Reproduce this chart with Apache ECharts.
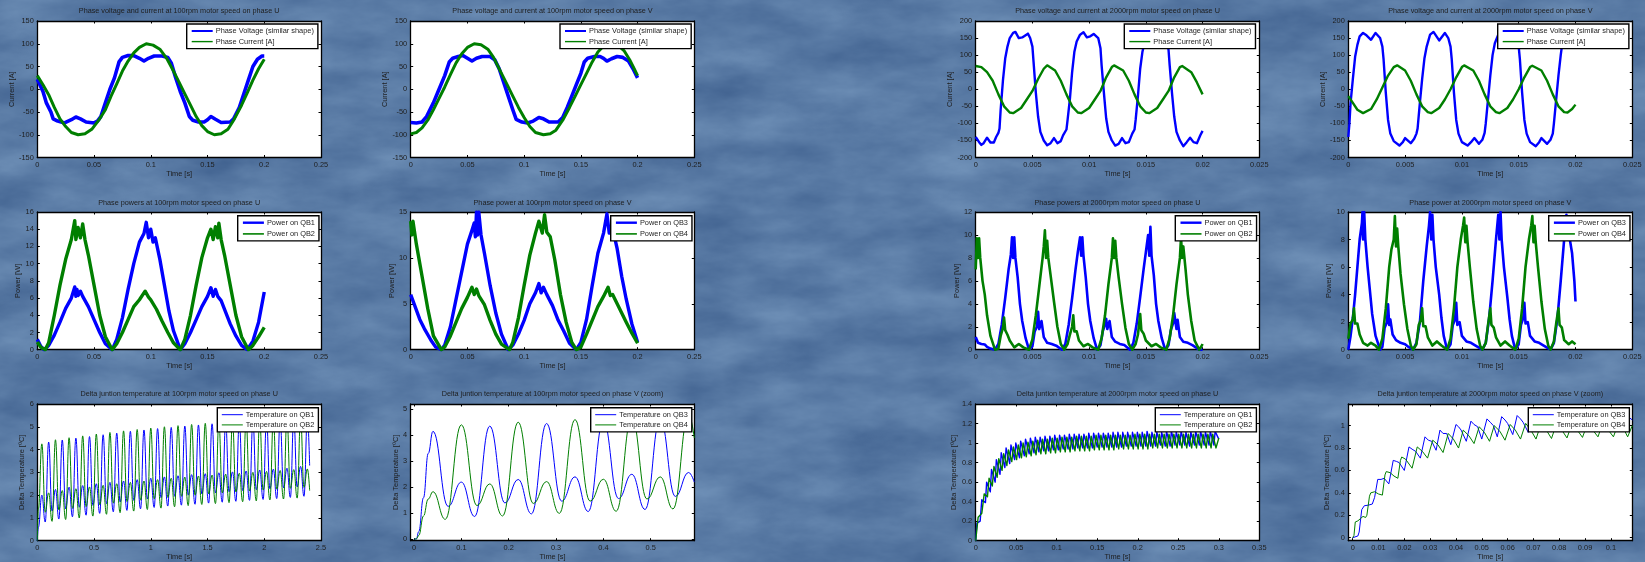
<!DOCTYPE html>
<html><head><meta charset="utf-8">
<style>
html,body{margin:0;padding:0;width:1645px;height:562px;overflow:hidden;background:#5a80a8}
#bg{position:absolute;left:0;top:0}
#c{position:absolute;left:0;top:0;width:1645px;height:562px;filter:blur(0.5px)}
</style>
<script src="https://cdn.jsdelivr.net/npm/echarts@6/dist/echarts.min.js"></script>
</head><body>
<svg id="bg" width="1645" height="562" xmlns="http://www.w3.org/2000/svg">
<filter id="w" x="0" y="0" width="100%" height="100%" color-interpolation-filters="sRGB">
<feTurbulence type="fractalNoise" baseFrequency="0.012 0.028" numOctaves="5" seed="11"/>
<feColorMatrix type="matrix" values=".2 0 0 0 .25  .2 0 0 0 .38  .17 0 0 0 .56  0 0 0 0 1"/>
</filter>
<rect width="1645" height="562" filter="url(#w)"/>
</svg>
<div id="c"></div>
<script>
// ---------- Row 1: phase voltage and current ----------
const voltU100=[[0,22],[.005,-5],[.008,-30],[.012,-50],[.014,-65],[.018,-70],[.024,-74],[.03,-67],[.034,-61],[.038,-65],[.043,-72],[.05,-74],[.053,-70],[.056,-60],[.06,-30],[.064,0],[.068,25],[.072,60],[.075,70],[.08,74],[.085,74],[.09,68],[.094,62],[.098,68],[.103,73],[.11,73],[.115,70],[.118,58],[.122,25],[.126,-5],[.13,-30],[.134,-60],[.137,-68],[.142,-72],[.147,-72],[.15,-67],[.153,-60],[.157,-66],[.162,-73],[.17,-72],[.173,-65],[.178,-40],[.182,-10],[.186,20],[.19,50],[.194,66],[.198,73],[.2,73]];
const currU100=[[0,30],[.005,10],[.01,-12],[.015,-40],[.02,-65],[.025,-82],[.03,-95],[.036,-100],[.042,-98],[.048,-88],[.055,-65],[.06,-45],[.065,-15],[.07,12],[.075,40],[.08,62],[.085,80],[.09,92],[.096,100],[.102,97],[.108,88],[.114,68],[.12,40],[.125,15],[.13,-10],[.135,-35],[.14,-60],[.145,-80],[.15,-93],[.156,-100],[.162,-98],[.168,-88],[.173,-68],[.18,-35],[.185,-8],[.19,20],[.195,45],[.2,66]];
const voltV100=[[0,-73],[.005,-74],[.01,-72],[.014,-60],[.02,-30],[.025,0],[.03,30],[.034,60],[.037,68],[.042,72],[.046,74],[.05,68],[.054,62],[.058,68],[.063,72],[.07,72],[.074,65],[.078,45],[.082,15],[.086,-15],[.09,-45],[.093,-66],[.098,-72],[.103,-74],[.108,-70],[.113,-62],[.117,-65],[.122,-72],[.13,-72],[.134,-62],[.138,-40],[.142,-15],[.146,10],[.15,35],[.153,60],[.156,68],[.162,72],[.167,72],[.17,68],[.173,62],[.177,67],[.182,72],[.187,70],[.192,62],[.196,45],[.2,25]];
const currV100=[[0,-98],[.005,-95],[.01,-85],[.015,-68],[.02,-45],[.025,-20],[.03,5],[.035,32],[.04,58],[.045,78],[.05,92],[.056,100],[.062,98],[.068,88],[.073,70],[.08,35],[.085,10],[.09,-15],[.095,-40],[.1,-62],[.105,-82],[.11,-95],[.117,-100],[.123,-98],[.128,-90],[.134,-68],[.14,-40],[.145,-15],[.15,10],[.155,35],[.16,60],[.165,82],[.17,95],[.176,100],[.182,98],[.188,85],[.193,65],[.197,45],[.2,30]];
const voltU2000=[[0,-140],[.0003,-155],[.0005,-163],[.0007,-158],[.001,-142],[.0013,-156],[.0016,-156],[.0018,-140],[.002,-128],[.0021,-115],[.0022,-60],[.0024,25],[.0026,90],[.0028,125],[.003,150],[.0033,165],[.0035,168],[.0038,150],[.0041,152],[.0046,163],[.0048,150],[.005,125],[.0051,80],[.0053,-10],[.0055,-80],[.0057,-125],[.006,-150],[.0063,-164],[.0066,-158],[.0069,-143],[.0072,-158],[.0075,-152],[.0077,-135],[.008,-118],[.0081,-90],[.0083,-30],[.0085,50],[.0087,110],[.0089,140],[.0092,160],[.0095,167],[.0098,152],[.0101,155],[.0104,162],[.0108,150],[.011,120],[.0111,70],[.0113,-10],[.0115,-85],[.0117,-125],[.012,-150],[.0123,-165],[.0126,-160],[.0129,-143],[.0132,-158],[.0135,-155],[.0138,-130],[.014,-118],[.0141,-90],[.0143,-20],[.0145,60],[.0147,110],[.0149,140],[.0152,160],[.0155,167],[.0158,150],[.0161,155],[.0164,162],[.0168,150],[.017,115],[.0171,70],[.0173,-10],[.0175,-80],[.0177,-125],[.018,-150],[.0183,-167],[.0186,-155],[.0189,-142],[.0192,-155],[.0195,-158],[.0198,-135],[.02,-122]];
const currU2000=[[0,68],[.0005,65],[.001,50],[.0015,25],[.002,-15],[.0025,-50],[.003,-68],[.0033,-70],[.004,-55],[.0045,-30],[.005,-5],[.0055,30],[.006,60],[.0063,70],[.007,55],[.0075,25],[.008,-15],[.0085,-50],[.009,-68],[.0093,-70],[.01,-55],[.0105,-30],[.011,-5],[.0115,35],[.012,65],[.0122,70],[.013,55],[.0135,25],[.014,-15],[.0145,-50],[.015,-68],[.0153,-70],[.016,-55],[.0165,-30],[.017,-5],[.0175,35],[.018,65],[.0182,68],[.019,50],[.0195,20],[.02,-15]];
const voltV2000=[[0,-140],[.0001,-100],[.0002,-40],[.0004,30],[.0006,95],[.0008,130],[.001,155],[.0013,165],[.0016,158],[.002,145],[.0024,165],[.0028,150],[.003,125],[.0031,90],[.0033,-10],[.0035,-90],[.0037,-130],[.004,-152],[.0045,-165],[.0048,-155],[.005,-143],[.0055,-158],[.0058,-145],[.006,-130],[.0061,-115],[.0063,-40],[.0065,30],[.0067,90],[.0069,125],[.0072,160],[.0075,168],[.008,143],[.0085,165],[.0088,150],[.009,125],[.0091,90],[.0093,-10],[.0095,-90],[.0097,-130],[.01,-155],[.0105,-165],[.0108,-155],[.0111,-143],[.0115,-160],[.0118,-148],[.012,-128],[.0121,-100],[.0123,-30],[.0125,40],[.0127,100],[.0129,135],[.0132,160],[.0135,168],[.014,145],[.0145,165],[.0148,150],[.015,125],[.0151,90],[.0153,-10],[.0155,-90],[.0157,-130],[.016,-155],[.0165,-167],[.0168,-155],[.017,-143],[.0175,-160],[.0178,-148],[.018,-130],[.0181,-100],[.0183,-30],[.0185,40],[.0187,100],[.0189,150],[.0192,163],[.0195,168],[.02,150]];
const currV2000=[[0,-20],[.0003,-35],[.0008,-60],[.0013,-70],[.002,-58],[.0025,-30],[.003,5],[.0035,40],[.004,65],[.0043,70],[.005,55],[.0055,25],[.006,-15],[.0065,-50],[.007,-67],[.0073,-70],[.008,-55],[.0085,-30],[.009,0],[.0095,35],[.01,65],[.0102,70],[.011,55],[.0115,25],[.012,-15],[.0125,-50],[.013,-67],[.0133,-70],[.014,-55],[.0145,-30],[.015,0],[.0155,35],[.016,65],[.0162,69],[.017,55],[.0175,25],[.018,-15],[.0185,-50],[.019,-67],[.0193,-68],[.0197,-58],[.02,-45]];
// ---------- Row 2: phase powers ----------
const powQB1_100=[[0,1.2],[.003,.4],[.006,0],[.01,.5],[.015,1.7],[.02,3.2],[.025,4.8],[.03,6],[.033,7.3],[.034,6.2],[.035,7],[.036,6.3],[.038,6.8],[.04,6.2],[.045,5],[.05,3.5],[.055,2],[.06,.7],[.066,0],[.07,1.2],[.075,3.7],[.08,7],[.085,10],[.09,12.5],[.094,13.5],[.096,14.8],[.098,13],[.1,14],[.102,12.5],[.104,13],[.108,10.5],[.112,7.5],[.116,4.5],[.12,2.2],[.126,0],[.13,.7],[.135,2],[.14,3.5],[.145,5],[.15,6.2],[.153,7.2],[.155,6.2],[.157,7],[.159,6.2],[.162,5.7],[.165,4.7],[.17,3],[.175,1.6],[.18,.5],[.185,0],[.19,1],[.195,3.2],[.2,6.7]];
const powQB2_100=[[0,.9],[.003,.3],[.007,0],[.01,.8],[.015,4],[.02,7.5],[.025,10.5],[.03,12.8],[.033,15],[.034,12.8],[.036,14.2],[.038,13],[.04,14.6],[.042,12.8],[.045,11],[.05,7.5],[.055,4],[.06,1.5],[.066,0],[.07,.7],[.075,2],[.08,3.5],[.085,5],[.09,5.8],[.095,6.8],[.098,6.1],[.1,5.8],[.105,4.7],[.11,3.3],[.115,2],[.12,.8],[.126,0],[.13,1.2],[.135,4],[.14,7.5],[.145,10.7],[.15,13],[.153,14],[.155,12.8],[.157,14.3],[.159,13],[.16,14.7],[.162,12.8],[.165,11],[.17,7.5],[.175,4],[.18,1.5],[.186,0],[.19,.5],[.195,1.5],[.2,2.6]];
const powQB3_100=[[0,6],[.003,5],[.008,3.3],[.012,2.3],[.018,1],[.022,.3],[.027,0],[.03,.5],[.035,2.5],[.04,5.5],[.045,8.5],[.05,11.5],[.054,13],[.056,13.8],[.057,12.3],[.058,15],[.059,12.5],[.06,15],[.062,12.5],[.065,10.5],[.07,7],[.075,4],[.08,1.7],[.086,0],[.09,.5],[.095,1.7],[.1,3.2],[.105,5],[.11,6.2],[.113,7.2],[.115,6.2],[.117,6.8],[.12,6],[.125,4.8],[.13,3.2],[.135,2],[.14,.7],[.146,0],[.15,.8],[.155,3.3],[.16,7],[.165,10.5],[.17,12.7],[.173,14.8],[.175,12.7],[.178,13.2],[.182,11],[.186,8],[.19,5.5],[.195,2.8],[.2,.8]];
const powQB4_100=[[0,14],[.001,12.5],[.002,14],[.005,11.5],[.01,8],[.015,4.5],[.02,1.5],[.027,0],[.03,.3],[.035,1.5],[.04,3],[.045,4.5],[.05,5.7],[.054,6.8],[.056,6],[.058,6.6],[.06,5.9],[.065,4.9],[.07,3.2],[.075,1.7],[.08,.6],[.087,0],[.09,.8],[.095,3.5],[.1,7],[.105,10.3],[.11,12.7],[.113,14],[.116,12.7],[.118,14.7],[.12,12.8],[.123,12.3],[.127,9.8],[.132,6],[.137,3],[.142,.8],[.146,0],[.15,.3],[.155,1.7],[.16,3.2],[.165,4.7],[.17,5.8],[.174,6.8],[.176,5.9],[.178,6],[.182,5],[.186,4],[.19,3],[.195,1.8],[.2,.7]];
const powQB1_2000=[[0,1.1],[.0002,.6],[.0005,.5],[.0008,.45],[.001,.25],[.0013,.1],[.0017,0],[.002,.5],[.0023,2.2],[.0026,4.5],[.0029,7],[.0031,8.3],[.0032,9.8],[.0033,8],[.0034,9.8],[.0035,8],[.0037,6.3],[.0039,4],[.0041,2.5],[.0044,1],[.0047,0],[.005,.3],[.0052,1.6],[.0054,2],[.0055,3.3],[.0056,1.8],[.0058,2.5],[.006,1.1],[.0063,.6],[.0067,.5],[.0071,.35],[.0076,0],[.0079,.5],[.0082,2.2],[.0085,4.5],[.0088,7],[.009,8.5],[.0092,9.8],[.0093,8.2],[.0094,9.8],[.0095,8.2],[.0097,6.3],[.0099,4],[.0101,2.5],[.0104,1],[.0107,0],[.011,.4],[.0112,1.6],[.0114,2.2],[.0115,2.7],[.0116,1.8],[.0118,2.5],[.012,1.1],[.0123,.7],[.0127,.5],[.0131,.4],[.0136,0],[.0139,.6],[.0142,2.3],[.0145,4.6],[.0148,7],[.015,8.5],[.0152,10],[.0153,8.2],[.0154,10.7],[.0155,8.2],[.0157,6.5],[.0159,4],[.0161,2.5],[.0164,1],[.0167,0],[.017,.4],[.0172,1.7],[.0174,2.3],[.0175,3.2],[.0177,1.8],[.0178,2.6],[.018,1.1],[.0183,.7],[.0187,.6],[.0191,.4],[.0197,0],[.02,0]];
const powQB2_2000=[[0,7],[.0001,9.7],[.0002,8],[.0003,9.7],[.0004,8],[.0006,6],[.0008,4.8],[.001,3],[.0013,1.2],[.0017,0],[.002,.1],[.0022,1.2],[.0024,1.9],[.0025,2.8],[.0026,1.7],[.0028,1.3],[.003,.8],[.0034,.2],[.0038,.5],[.0042,.2],[.0047,0],[.005,.9],[.0053,3],[.0056,5.5],[.0059,8],[.006,9],[.0061,10.4],[.0062,8],[.0063,9.5],[.0064,8],[.0066,6.5],[.0069,4.2],[.0072,2],[.0075,.5],[.0078,0],[.0081,.5],[.0083,1.3],[.0085,2],[.0086,3],[.0087,1.6],[.0089,1.6],[.0091,.8],[.0095,.3],[.0099,.5],[.0103,.2],[.0108,0],[.0111,1],[.0114,3],[.0117,5.7],[.012,8],[.0121,9.7],[.0122,8],[.0123,9.5],[.0124,8],[.0126,6.3],[.0129,4],[.0132,1.9],[.0135,.5],[.0138,0],[.0141,.5],[.0143,1.3],[.0145,3.1],[.0146,1.7],[.0148,1.4],[.015,.8],[.0155,.3],[.0159,.5],[.0163,.2],[.0168,0],[.0171,1],[.0174,3],[.0177,5.7],[.018,8],[.0181,9.8],[.0182,8],[.0183,9],[.0185,7],[.0187,4.8],[.019,2.5],[.0193,.8],[.0197,0],[.0199,.3],[.02,.5]];
const powQB3_2000=[[0,0],[.0002,1],[.0004,2.3],[.0006,4],[.0008,6],[.001,8],[.0012,9.2],[.00125,10],[.0013,8],[.0014,10],[.0015,8],[.0017,6],[.0019,4.3],[.0021,2.6],[.0024,1],[.0028,0],[.003,.2],[.0032,1.6],[.0034,2],[.0035,3.3],[.0036,1.8],[.0037,2.2],[.0039,1.1],[.0042,.7],[.0046,.5],[.005,.4],[.0053,.2],[.0057,0],[.006,.5],[.0063,2],[.0066,5],[.0069,7.5],[.0071,9],[.0072,10],[.0073,8],[.0074,9.8],[.0075,8],[.0077,6],[.008,4],[.0082,2.3],[.0084,1],[.0087,0],[.009,.4],[.0092,1.8],[.0094,2.2],[.0095,3.4],[.0096,1.8],[.0098,2],[.01,1],[.0104,.6],[.0108,.5],[.0112,.3],[.0118,0],[.0121,.5],[.0124,2.3],[.0127,5],[.013,8],[.0132,9.8],[.0133,8],[.0134,10],[.0135,8],[.0137,6],[.014,3.8],[.0142,2.2],[.0144,1],[.0147,0],[.015,.4],[.0152,1.8],[.0154,2.3],[.0155,3.4],[.0156,1.9],[.0158,2],[.016,1],[.0164,.6],[.0168,.5],[.0172,.3],[.0178,0],[.0181,.5],[.0184,2.2],[.0187,5],[.019,8],[.0192,9.8],[.0193,8],[.0194,9.5],[.0195,8],[.0197,7],[.0199,5],[.02,3.5]];
const powQB4_2000=[[0,.8],[.0002,1.9],[.0004,2.2],[.0005,3],[.0006,1.9],[.0008,1.9],[.001,1.1],[.0013,.5],[.0017,.3],[.002,.5],[.0024,.3],[.0027,0],[.003,.8],[.0033,3],[.0036,6],[.0038,7.3],[.004,8],[.0041,9.7],[.0042,7.5],[.0043,8.8],[.0044,7.5],[.0046,5.5],[.0049,3.3],[.0052,1.5],[.0055,.3],[.0057,0],[.006,.4],[.0062,1.8],[.0064,2.2],[.0065,3],[.0066,1.7],[.0068,1.7],[.007,.9],[.0074,.3],[.0078,.6],[.0082,.3],[.0087,0],[.009,.8],[.0093,3],[.0096,6],[.0099,8],[.0101,9],[.0102,9.6],[.0103,7.8],[.0104,9],[.0105,7.8],[.0107,6],[.011,3.5],[.0113,1.5],[.0116,.3],[.0118,0],[.0121,.5],[.0123,1.8],[.0125,3],[.0126,1.8],[.0128,1.6],[.013,.9],[.0134,.3],[.0138,.6],[.0142,.3],[.0147,0],[.015,.8],[.0153,3],[.0156,6],[.0159,8],[.0161,9],[.0162,9.7],[.0163,7.8],[.0164,9],[.0165,7.8],[.0167,6],[.017,3.5],[.0173,1.5],[.0176,.3],[.0178,0],[.0181,.6],[.0183,1.9],[.0185,3],[.0186,1.8],[.0188,1.6],[.019,.7],[.0194,.4],[.0197,.6],[.02,.4]];
// ---------- Row 3: delta junction temperature ----------
// panel 9: successive extrema, one every 0.03 s from t=0.04
const tempQB1_U100=[2.0,.82,4.33,1.3, 2.25,.95,4.42,1.4, 2.35,1.05,4.5,1.47, 2.42,1.12,4.57,1.55, 2.5,1.2,4.65,1.63, 2.56,1.27,4.72,1.7, 2.62,1.33,4.8,1.77, 2.68,1.4,4.86,1.83, 2.74,1.46,4.92,1.89, 2.8,1.52,4.97,1.95, 2.85,1.56,5.03,2.0, 2.9,1.6,5.08,2.05, 2.94,1.65,5.13,2.1, 2.98,1.69,5.17,2.15, 3.02,1.73,5.21,2.2, 3.06,1.77,5.25,2.24, 3.1,1.81,5.28,2.28, 3.14,1.85,5.31,2.32, 3.18,1.9,5.34,2.36, 3.26,1.95,5.37];
const tempQB2_U100=[4.25,1.25,2.1,.85, 4.43,1.35,2.2,.93, 4.52,1.42,2.28,1.0, 4.6,1.5,2.36,1.08, 4.68,1.58,2.43,1.16, 4.75,1.65,2.5,1.23, 4.82,1.72,2.56,1.3, 4.88,1.78,2.62,1.37, 4.94,1.84,2.68,1.43, 5.0,1.9,2.74,1.49, 5.05,1.95,2.79,1.54, 5.1,2.0,2.84,1.59, 5.15,2.05,2.88,1.63, 5.19,2.1,2.92,1.67, 5.23,2.14,2.96,1.71, 5.27,2.18,3.0,1.75, 5.3,2.22,3.04,1.79, 5.33,2.26,3.08,1.83, 5.36,2.3,3.12,1.87, 5.38,2.34,3.15];
const tempQB3_V100=[[0,0],[.005,.02],[.01,.3],[.02,1.6],[.03,3.3],[.04,4.15],[.072,1.27],[.1,2.2],[.128,.88],[.16,4.35],[.192,1.4],[.22,2.3],[.248,.98],[.28,4.45],[.312,1.47],[.34,2.4],[.368,1.07],[.4,4.55],[.432,1.57],[.46,2.5],[.488,1.15],[.52,4.65],[.552,1.65],[.58,2.57],[.592,2.2]];
const tempQB4_V100=[[0,0],[.005,.02],[.01,.15],[.02,.9],[.03,1.55],[.04,1.83],[.066,.77],[.1,4.4],[.133,1.3],[.16,2.13],[.187,.9],[.22,4.5],[.252,1.38],[.28,2.22],[.307,1.0],[.34,4.6],[.372,1.47],[.4,2.31],[.427,1.08],[.46,4.7],[.492,1.55],[.52,2.4],[.547,1.17],[.58,4.8],[.592,3.9]];
// panel 11: one peak / one trough per electrical period (0.006 s)
const peaksQB1_U2000=[.42,.6,.73,.83,.9,.95,.98,1.0,1.02,1.04,1.05,1.06,1.06,1.07,1.07,1.08,1.08,1.08,1.09,1.09,1.09,1.09,1.1,1.1,1.1,1.1,1.1,1.11,1.11,1.11,1.11,1.11,1.11,1.11,1.12,1.11,1.11,1.11,1.12,1.12,1.11,1.12,1.11,1.11,1.12,1.12,1.11,1.12,1.12];
const troughsQB1_U2000=[.39,.5,.6,.68,.75,.79,.83,.85,.87,.89,.9,.91,.92,.92,.93,.93,.94,.94,.94,.95,.95,.95,.95,.96,.96,.96,.96,.96,.96,.97,.97,.97,.97,.97,.97,.97,.98,.97,.97,.98,.98,.98,.97,.98,.98,.98,.98,.98,1.04];
const peaksQB2_U2000=[.48,.64,.76,.84,.89,.93,.96,.98,1.0,1.01,1.02,1.03,1.04,1.04,1.05,1.05,1.06,1.06,1.06,1.07,1.07,1.07,1.07,1.08,1.08,1.08,1.08,1.08,1.08,1.08,1.08,1.09,1.09,1.09,1.09,1.09,1.09,1.09,1.09,1.09,1.09,1.09,1.09,1.09,1.09,1.09,1.09,1.09];
const troughsQB2_U2000=[.45,.56,.65,.72,.77,.81,.83,.85,.86,.87,.88,.89,.89,.9,.9,.91,.91,.91,.92,.92,.92,.92,.93,.93,.93,.93,.93,.94,.94,.94,.94,.94,.94,.94,.95,.95,.95,.95,.95,.95,.95,.95,.95,.95,.95,.95,.95,.95];
const tempQB3_V2000=[[0,0],[.002,.015],[.0025,.05],[.0035,.25],[.0045,.285],[.006,.29],[.0076,.3],[.0085,.36],[.0097,.52],[.011,.52],[.0122,.53],[.014,.48],[.0157,.69],[.017,.68],[.018,.67],[.02,.6],[.0218,.81],[.023,.79],[.0244,.77],[.0262,.71],[.028,.9],[.0293,.87],[.0306,.86],[.0323,.78],[.0338,.96],[.035,.93],[.0364,.93],[.038,.83],[.04,1.01],[.041,.99],[.042,.96],[.044,.86],[.0458,1.04],[.047,1.01],[.0484,.99],[.05,.88],[.052,1.06],[.0533,1.03],[.0545,1.0],[.056,.9],[.0577,1.08],[.059,1.05],[.06,1.02],[.062,.92],[.0637,1.09],[.065,1.06],[.066,1.03],[.068,.94],[.0697,1.1],[.072,1.04],[.074,.95],[.0757,1.1],[.078,1.05],[.08,.95],[.0817,1.11],[.084,1.05],[.086,.96],[.0877,1.11],[.09,1.05],[.092,.96],[.0937,1.11],[.096,1.05],[.098,.96],[.0997,1.11],[.102,1.05],[.104,.97],[.1057,1.1],[.1083,1.05]];
const tempQB4_V2000=[[0,0],[.0005,.02],[.001,.14],[.002,.15],[.003,.17],[.004,.19],[.005,.18],[.0055,.2],[.0065,.37],[.007,.4],[.0085,.41],[.01,.39],[.0115,.38],[.0125,.56],[.013,.59],[.0145,.58],[.016,.55],[.0175,.53],[.0185,.69],[.019,.72],[.0205,.7],[.023,.62],[.025,.81],[.027,.77],[.029,.71],[.031,.87],[.033,.83],[.035,.76],[.037,.93],[.039,.88],[.041,.8],[.0428,.96],[.045,.91],[.047,.84],[.049,.99],[.051,.94],[.053,.86],[.0548,1.0],[.057,.95],[.059,.87],[.061,1.01],[.063,.96],[.065,.88],[.067,1.02],[.069,.96],[.071,.88],[.073,1.02],[.075,.96],[.077,.885],[.079,1.02],[.081,.96],[.083,.89],[.085,1.02],[.087,.96],[.089,.895],[.091,1.02],[.093,.96],[.095,.9],[.097,1.03],[.099,.96],[.101,.9],[.103,1.03],[.105,.97],[.1065,.9],[.1083,1.0]];
// ---------- Tick labels ----------
const ticksT100=[0,.05,.1,.15,.2,.25], ticksT2000=[0,.005,.01,.015,.02,.025];
const ticksT24=[0,.5,1,1.5,2,2.5], ticksT06=[0,.1,.2,.3,.4,.5];
const ticksT03=[0,.05,.1,.15,.2,.25,.3,.35], ticksT01=[0,.01,.02,.03,.04,.05,.06,.07,.08,.09,.1];
const ticksI150=[-150,-100,-50,0,50,100,150], ticksI200=[-200,-150,-100,-50,0,50,100,150,200];
const ticksP16=[0,2,4,6,8,10,12,14,16], ticksP15=[0,5,10,15], ticksP12=[0,2,4,6,8,10,12], ticksP10=[0,2,4,6,8,10];
const ticksD6=[0,1,2,3,4,5,6], ticksD5=[0,1,2,3,4,5], ticksD14=[0,.2,.4,.6,.8,1,1.2,1.4], ticksD1=[0,.2,.4,.6,.8,1];

// Helpers that only pair typed values with their time base
const stepped=(vals,t0,dt,head,tail)=>head.concat(vals.map((v,i)=>[t0+dt*i,v]),tail);
function sawtooth(peaks,troughs,tPeak,tTrough,head,tail){
  const out=head.slice();
  peaks.forEach((p,i)=>{out.push([tPeak+.006*i,p]);out.push([tTrough+.006*i,troughs[i]]);});
  return out.concat(tail);
}

const BLUE='#0000ff', GREEN='#007f00', INK='#1e1e1e';
const cols=[{l:37.3,r:321},{l:410.7,r:694.3},{l:975.7,r:1259.3},{l:1348.3,r:1632.3}];
const rows=[{t:21,b:157.5,ty:11,lg:24,gap:3.6},{t:212,b:349.7,ty:203,lg:215.7,gap:4.2},{t:404,b:540.7,ty:394,lg:407.7,gap:3.2}];
const lgLeft=[[186.7,560,1124.3,1497.7],[237.7,610.7,1175.3,1548.7],[217.3,590.7,1155.3,1528.3]];

const VI=['Phase Voltage (similar shape)','Phase Current [A]'];
const DT='Delta Temperature [\u2070C]';
const panels=[
 {r:0,c:0,title:'Phase voltage and current at 100rpm motor speed on phase U',yn:'Current [A]',yg:20,x:ticksT100,y:ticksI150,names:VI,d:[voltU100,currU100],w:[3.6,3],lw:[2,1.4]},
 {r:0,c:1,title:'Phase voltage and current at 100rpm motor speed on phase V',yn:'Current [A]',yg:21,x:ticksT100,y:ticksI150,names:VI,d:[voltV100,currV100],w:[3.6,3],lw:[2,1.4]},
 {r:0,c:2,title:'Phase voltage and current at 2000rpm motor speed on phase U',yn:'Current [A]',yg:21.5,x:ticksT2000,y:ticksI200,names:VI,d:[voltU2000,currU2000],w:[2.4,2.4],lw:[2,1.4]},
 {r:0,c:3,title:'Phase voltage and current at 2000rpm motor speed on phase V',yn:'Current [A]',yg:21,x:ticksT2000,y:ticksI200,names:VI,d:[voltV2000,currV2000],w:[2.4,2.4],lw:[2,1.4]},
 {r:1,c:0,title:'Phase powers at 100rpm motor speed on phase U',yn:'Power [W]',yg:15,x:ticksT100,y:ticksP16,names:['Power on QB1','Power on QB2'],d:[powQB1_100,powQB2_100],w:[3.4,3.4],lw:[2.4,1.6]},
 {r:1,c:1,title:'Phase power at 100rpm motor speed on phase V',yn:'Power [W]',yg:15,x:ticksT100,y:ticksP15,names:['Power on QB3','Power on QB4'],d:[powQB3_100,powQB4_100],w:[3.4,3.4],lw:[2.4,1.6]},
 {r:1,c:2,title:'Phase powers at 2000rpm motor speed on phase U',yn:'Power [W]',yg:15,x:ticksT2000,y:ticksP12,names:['Power on QB1','Power on QB2'],d:[powQB1_2000,powQB2_2000],w:[2.6,2.6],lw:[2.4,1.6]},
 {r:1,c:3,title:'Phase power at 2000rpm motor speed on phase V',yn:'Power [W]',yg:14,x:ticksT2000,y:ticksP10,names:['Power on QB3','Power on QB4'],d:[powQB3_2000,powQB4_2000],w:[2.6,2.6],lw:[2.4,1.6]},
 {r:2,c:0,title:'Delta juntion temperature at 100rpm motor speed on phase U',yn:DT,yg:11,x:ticksT24,y:ticksD6,names:['Temperature on QB1','Temperature on QB2'],
  d:[stepped(tempQB1_U100,.04,.03,[[0,0],[.01,.6]],[[2.4,3.3]]),stepped(tempQB2_U100,.04,.03,[[0,0],[.01,1.4]],[[2.4,2.2]])],w:[1,1],lw:[1,1],smooth:true},
 {r:2,c:1,title:'Delta juntion temperature at 100rpm motor speed on phase V (zoom)',yn:DT,yg:11,x:ticksT06,y:ticksD5,xr:[-.007,.592],yr:[-.05,5.2],names:['Temperature on QB3','Temperature on QB4'],d:[tempQB3_V100,tempQB4_V100],w:[1,1],lw:[1,1],smooth:true},
 {r:2,c:2,title:'Delta juntion temperature at 2000rpm motor speed on phase U',yn:DT,yg:18,x:ticksT03,y:ticksD14,names:['Temperature on QB1','Temperature on QB2'],
  d:[sawtooth(peaksQB1_U2000,troughsQB1_U2000,.0075,.012,[[0,0],[.0015,.18],[.0055,.2]],[]),sawtooth(peaksQB2_U2000,troughsQB2_U2000,.0105,.0145,[[0,0],[.001,.02],[.003,.24],[.0075,.28]],[[.3,1.05]])],w:[1.4,1.4],lw:[1,1]},
 {r:2,c:3,title:'Delta juntion temperature at 2000rpm motor speed on phase V (zoom)',yn:DT,yg:17,x:ticksT01,y:ticksD1,xr:[-.0017,.1083],yr:[-.027,1.193],names:['Temperature on QB3','Temperature on QB4'],d:[tempQB3_V2000,tempQB4_V2000],w:[1,1],lw:[1,1]},
];

const font={fontFamily:'"Liberation Sans","DejaVu Sans",sans-serif',color:INK};
const opt={animation:false,backgroundColor:'transparent',title:[],grid:[],xAxis:[],yAxis:[],legend:[],series:[]};
panels.forEach((p,i)=>{
  const C=cols[p.c],R=rows[p.r];
  opt.grid.push({left:C.l,width:C.r-C.l,top:R.t,height:R.b-R.t,show:true,backgroundColor:'#fff',borderWidth:0,containLabel:false});
  opt.title.push({text:p.title,left:(C.l+C.r)/2,top:R.ty-4.5,padding:0,textAlign:'center',textStyle:{...font,fontSize:7.25,fontWeight:'normal',lineHeight:9}});
  const xr=p.xr||[p.x[0],p.x[p.x.length-1]], yr=p.yr||[p.y[0],p.y[p.y.length-1]];
  const line={show:true,onZero:false,lineStyle:{color:'#000',width:1.3}};
  const tick=v=>({show:true,inside:true,length:2.5,customValues:v,lineStyle:{color:'#000',width:1}});
  const lab=v=>({show:true,margin:3.5,fontSize:7.4,...font,customValues:v,hideOverlap:false,showMinLabel:true,showMaxLabel:true});
  opt.xAxis.push({type:'value',gridIndex:i,position:'bottom',min:xr[0],max:xr[1],name:'Time [s]',nameLocation:'middle',nameGap:13,nameTextStyle:{...font,fontSize:7.4},axisLine:line,axisTick:tick(p.x),axisLabel:lab(p.x),splitLine:{show:false}});
  opt.xAxis.push({type:'value',gridIndex:i,position:'top',min:xr[0],max:xr[1],axisLine:line,axisTick:tick(p.x),axisLabel:{show:false},splitLine:{show:false}});
  opt.yAxis.push({type:'value',gridIndex:i,position:'left',min:yr[0],max:yr[1],name:p.yn,nameLocation:'middle',nameGap:p.yg,nameTextStyle:{...font,fontSize:7.4},axisLine:line,axisTick:tick(p.y),axisLabel:lab(p.y),splitLine:{show:false}});
  opt.yAxis.push({type:'value',gridIndex:i,position:'right',min:yr[0],max:yr[1],axisLine:line,axisTick:tick(p.y),axisLabel:{show:false},splitLine:{show:false}});
  [BLUE,GREEN].forEach((col,k)=>{
    opt.series.push({type:'line',name:p.names[k],xAxisIndex:2*i,yAxisIndex:2*i,data:p.d[k],showSymbol:false,symbol:'none',
      smooth:p.smooth?.45:false,smoothMonotone:p.smooth?'x':undefined,lineStyle:{color:col,width:p.w[k],join:'round'},itemStyle:{color:col},clip:true,silent:true,z:2+k,legendHoverLink:false});
  });
  opt.legend.push({show:true,data:p.names.map((n,k)=>({name:n,itemStyle:{color:'transparent',borderColor:'transparent',borderWidth:0,opacity:0},lineStyle:{color:k?GREEN:BLUE,width:p.lw[k]}})),orient:'vertical',align:'left',left:lgLeft[p.r][p.c],top:R.lg,
    backgroundColor:'#fff',borderColor:'#000',borderWidth:1.4,padding:[3.5,4,3.5,4],itemWidth:21,itemHeight:7,itemGap:R.gap,
    textStyle:{...font,fontSize:7.4,padding:[0,0,0,-2]},selectedMode:false,z:10});
});
echarts.init(document.getElementById('c'),null,{renderer:'canvas',width:1645,height:562}).setOption(opt);
</script>
</body></html>
